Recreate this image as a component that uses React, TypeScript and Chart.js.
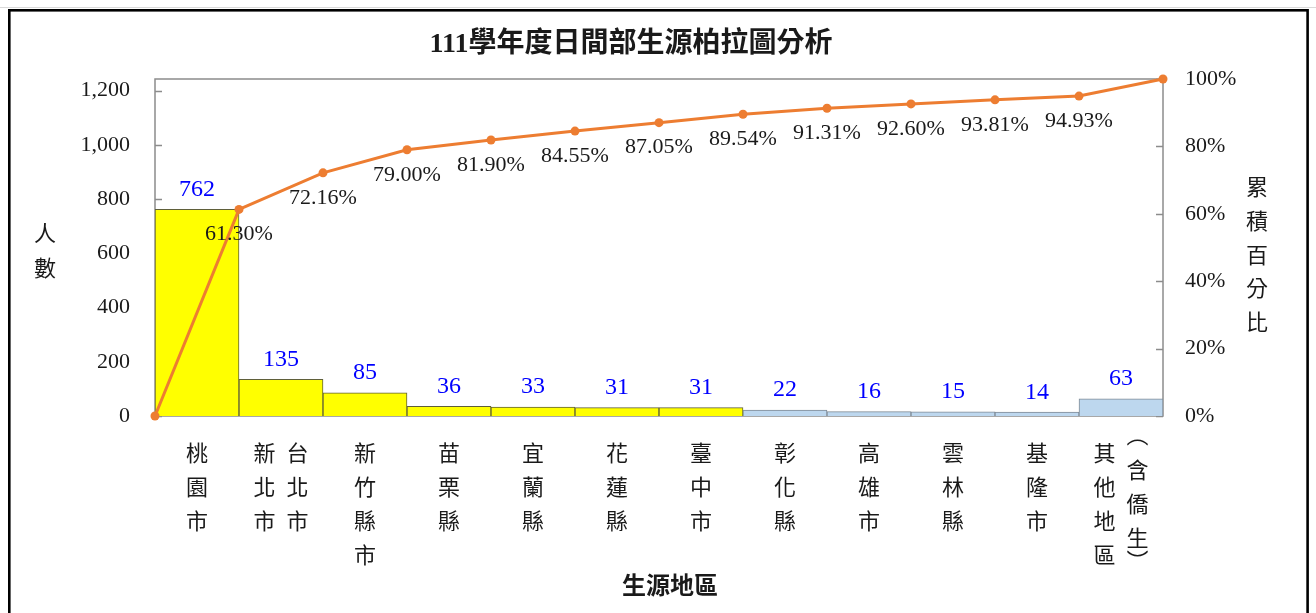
import React, { useEffect, useRef } from 'react';
import { Chart, registerables } from 'chart.js';

Chart.register(...registerables);

// ---- data ----
const categories = [
  '桃園市', '新北市台北市', '新竹縣市', '苗栗縣', '宜蘭縣', '花蓮縣',
  '臺中市', '彰化縣', '高雄市', '雲林縣', '基隆市', '其他地區(含僑生)',
];
const labelColumns = [
  ['桃園市'], ['新北市', '台北市'], ['新竹縣市'], ['苗栗縣'], ['宜蘭縣'], ['花蓮縣'],
  ['臺中市'], ['彰化縣'], ['高雄市'], ['雲林縣'], ['基隆市'], ['其他地區', '︵含僑生︶'],
];
const counts = [762, 135, 85, 36, 33, 31, 31, 22, 16, 15, 14, 63];
const cumulativePct = [0, 61.3, 72.16, 79.0, 81.9, 84.55, 87.05, 89.54, 91.31, 92.6, 93.81, 94.93, 100];
const leftTicks = [0, 200, 400, 600, 800, 1000, 1200];
const rightTicks = [0, 20, 40, 60, 80, 100];
const totalCount = 1243;
const highlightCount = 7;

const titleText = '111學年度日間部生源柏拉圖分析';
const xTitle = '生源地區';
const yTitle = '人數';
const y1Title = '累積百分比';

const SERIF = '"Liberation Serif", "Times New Roman", "Noto Sans CJK TC", serif';
const CJK = '"Noto Sans CJK TC", "Noto Sans CJK SC", sans-serif';

const decorPlugin = {
  id: 'decor',
  beforeDatasetsDraw(chart: any) {
    const { ctx, chartArea } = chart;
    ctx.save();
    ctx.strokeStyle = '#8c8c8c';
    ctx.lineWidth = 1.5;
    ctx.strokeRect(chartArea.left, chartArea.top, chartArea.right - chartArea.left, chartArea.bottom - chartArea.top);
    const y = chart.scales.y;
    const y1 = chart.scales.y1;
    ctx.beginPath();
    leftTicks.forEach((v) => {
      const py = Math.round(y.getPixelForValue(v)) + 0.5;
      ctx.moveTo(chartArea.left, py);
      ctx.lineTo(chartArea.left + 7, py);
    });
    rightTicks.forEach((v) => {
      const py = Math.round(y1.getPixelForValue(v)) + 0.5;
      ctx.moveTo(chartArea.right - 7, py);
      ctx.lineTo(chartArea.right, py);
    });
    ctx.stroke();
    ctx.restore();
  },
  afterDatasetsDraw(chart: any) {
    const { ctx, chartArea } = chart;
    ctx.save();
    ctx.textAlign = 'center';
    ctx.textBaseline = 'middle';

    // bar value labels
    const barMeta = chart.getDatasetMeta(0);
    ctx.fillStyle = '#0000ff';
    ctx.font = `24px ${SERIF}`;
    barMeta.data.forEach((el: any, i: number) => {
      ctx.fillText(String(counts[i]), el.x, el.y - 20);
    });

    // cumulative labels
    const lineMeta = chart.getDatasetMeta(1);
    ctx.fillStyle = '#1a1a1a';
    ctx.font = `22px ${SERIF}`;
    lineMeta.data.forEach((el: any, i: number) => {
      if (i === 0 || i === cumulativePct.length - 1) return;
      ctx.fillText(cumulativePct[i].toFixed(2) + '%', el.x, el.y + 25);
    });

    // x category labels (vertical text)
    const xs = chart.scales.x;
    ctx.fillStyle = '#1a1a1a';
    ctx.font = `22px ${CJK}`;
    labelColumns.forEach((cols, i) => {
      const cx = xs.getPixelForValue(i + 0.5);
      const n = cols.length;
      cols.forEach((col, c) => {
        const colX = cx + (c - (n - 1) / 2) * 33;
        let yy = 436;
        Array.from(col).forEach((ch) => {
          if (ch === '︵') {
            ctx.fillText(ch, colX, yy - 1);
            yy += 17;
            return;
          }
          if (ch === '︶') {
            ctx.fillText(ch, colX, yy + 6);
            yy += 17;
            return;
          }
          ctx.fillText(ch, colX, yy + 17);
          yy += 34;
        });
      });
    });

    // axis titles
    ctx.font = `22px ${CJK}`;
    Array.from(yTitle).forEach((ch, k) => ctx.fillText(ch, 45, 233 + k * 35));
    Array.from(y1Title).forEach((ch, k) => ctx.fillText(ch, 1257, 187 + k * 33.7));
    ctx.font = `bold 24px ${CJK}`;
    ctx.fillText(xTitle, (chartArea.left + chartArea.right) / 2 + 11, 585);

    // title
    ctx.font = `bold 28px ${SERIF}`;
    ctx.fillText(titleText, 631, 45);

    // outer frame
    ctx.strokeStyle = '#d9d9d9';
    ctx.lineWidth = 1;
    ctx.beginPath();
    ctx.moveTo(0, 7.5);
    ctx.lineTo(1316, 7.5);
    ctx.stroke();
    ctx.strokeStyle = '#000000';
    ctx.lineWidth = 2.6;
    ctx.strokeRect(9.3, 10.3, 1307.6 - 9.3, 640);
    ctx.restore();
  },
};

export default function App() {
  const ref = useRef<HTMLCanvasElement | null>(null);

  useEffect(() => {
    document.body.style.margin = '0';
    if (!ref.current) return;
    const chart = new Chart(ref.current, {
      type: 'bar',
      data: {
        datasets: [
          {
            type: 'bar',
            label: '人數',
            data: counts.map((v, i) => ({ x: i + 0.5, y: v, name: categories[i] })),
            xAxisID: 'x',
            yAxisID: 'y',
            backgroundColor: (c: any) => (c.dataIndex < highlightCount ? '#ffff00' : '#bdd7ee'),
            borderColor: (c: any) => (c.dataIndex < highlightCount ? '#5f5f3a' : '#7f8a96'),
            borderWidth: 1,
            barPercentage: 1,
            categoryPercentage: 1,
            order: 2,
          },
          {
            type: 'line',
            label: '累積百分比',
            data: cumulativePct.map((v, i) => ({ x: i, y: v })),
            xAxisID: 'x',
            yAxisID: 'y1',
            borderColor: '#ed7d31',
            backgroundColor: '#ed7d31',
            borderWidth: 3,
            pointRadius: 4.5,
            pointBorderWidth: 0,
            pointBackgroundColor: '#ed7d31',
            tension: 0,
            clip: false,
            order: 1,
          } as any,
        ],
      },
      options: {
        animation: false,
        responsive: false,
        devicePixelRatio: 1,
        layout: { padding: { top: 79, left: 0, right: 0, bottom: 0 } },
        plugins: { legend: { display: false }, tooltip: { enabled: false }, title: { display: false } },
        scales: {
          x: {
            type: 'linear',
            min: 0,
            max: counts.length,
            offset: false,
            grid: { display: false, offset: false },
            border: { display: false },
            ticks: { display: false },
            afterFit: (s: any) => { s.height = 197; },
          },
          y: {
            type: 'linear',
            position: 'left',
            min: 0,
            max: totalCount,
            grid: { display: false, drawTicks: false },
            border: { display: false },
            ticks: {
              padding: 25,
              color: '#1a1a1a',
              font: { family: SERIF, size: 22 },
              callback: (v: any) => Number(v).toLocaleString('en-US'),
            },
            afterBuildTicks: (s: any) => { s.ticks = leftTicks.map((v) => ({ value: v })); },
            afterFit: (s: any) => { s.width = 155; },
          },
          y1: {
            type: 'linear',
            position: 'right',
            min: 0,
            max: 100,
            grid: { display: false, drawTicks: false },
            border: { display: false },
            ticks: {
              padding: 22,
              color: '#1a1a1a',
              font: { family: SERIF, size: 22 },
              callback: (v: any) => `${v}%`,
            },
            afterBuildTicks: (s: any) => { s.ticks = rightTicks.map((v) => ({ value: v })); },
            afterFit: (s: any) => { s.width = 1316 - 1163; },
          },
        },
      } as any,
      plugins: [decorPlugin],
    });
    return () => chart.destroy();
  }, []);

  return <canvas ref={ref} width={1316} height={613} style={{ display: 'block', width: 1316, height: 613 }} />;
}
